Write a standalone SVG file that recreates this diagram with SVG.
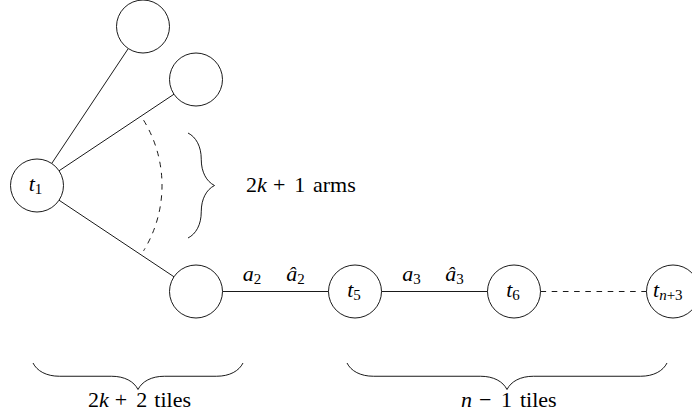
<svg xmlns="http://www.w3.org/2000/svg" width="692" height="416" viewBox="0 0 692 416">
  <style>
    .node { fill: #ffffff; stroke: #000000; stroke-width: 0.9; }
    .edge { fill: none; stroke: #000000; stroke-width: 0.9; }
    .dash { stroke-dasharray: 5.6 5.6; }
    .brace { fill: none; stroke: #000000; stroke-width: 0.9; }
  </style>

  <rect width="692" height="416" fill="#ffffff"/>

  <!-- connectors -->
  <g id="connectors">
    <line class="edge" x1="51.7" y1="163.5" x2="128.3" y2="48.5"/>
    <line class="edge" x1="59" y1="170.8" x2="174" y2="94.2"/>
    <line class="edge" x1="59" y1="200.2" x2="174" y2="276.8"/>
    <line class="edge" x1="222.5" y1="291.5" x2="328.5" y2="291.5"/>
    <line class="edge" x1="381.5" y1="291.5" x2="487.5" y2="291.5"/>
    <line class="edge dash" x1="540.5" y1="291.5" x2="646.5" y2="291.5"/>
    <!-- arc standing for the remaining arms -->
    <path class="edge dash" d="M 143.6 120.2 A 125 125 0 0 1 143.6 250.8"/>
  </g>

  <!-- nodes -->
  <g id="t1">
    <circle class="node" cx="37" cy="185.5" r="26.5"/>
    <text x="35.5" y="190.5" text-anchor="middle" font-family="Liberation Serif" font-size="22"><tspan font-style="italic">t</tspan><tspan font-size="15" dy="3.5">1</tspan></text>
  </g>
  <g id="arm-top">
    <circle class="node" cx="143" cy="26.5" r="26.5"/>
  </g>
  <g id="arm-second">
    <circle class="node" cx="196" cy="79.5" r="26.5"/>
  </g>
  <g id="arm-bottom">
    <circle class="node" cx="196" cy="291.5" r="26.5"/>
  </g>
  <g id="t5">
    <circle class="node" cx="355" cy="291.5" r="26.5"/>
    <text x="354" y="296.5" text-anchor="middle" font-family="Liberation Serif" font-size="22"><tspan font-style="italic">t</tspan><tspan font-size="15" dy="3.5">5</tspan></text>
  </g>
  <g id="t6">
    <circle class="node" cx="514" cy="291.5" r="26.5"/>
    <text x="513" y="296.5" text-anchor="middle" font-family="Liberation Serif" font-size="22"><tspan font-style="italic">t</tspan><tspan font-size="15" dy="3.5">6</tspan></text>
  </g>
  <g id="tn3">
    <circle class="node" cx="673" cy="291.5" r="26.5"/>
    <text x="653" y="296.5" font-family="Liberation Serif" font-size="22"><tspan font-style="italic">t</tspan><tspan font-size="15" dy="3.5"><tspan font-style="italic">n</tspan>+3</tspan></text>
  </g>

  <!-- edge labels -->
  <g id="edge-labels">
    <text x="252" y="280.5" text-anchor="middle" font-family="Liberation Serif" font-size="22"><tspan font-style="italic">a</tspan><tspan font-size="15" dy="3.5">2</tspan></text>
    <text x="295.5" y="280.5" text-anchor="middle" font-family="Liberation Serif" font-size="22"><tspan font-style="italic">â</tspan><tspan font-size="15" dy="3.5">2</tspan></text>
    <text x="411.5" y="280.5" text-anchor="middle" font-family="Liberation Serif" font-size="22"><tspan font-style="italic">a</tspan><tspan font-size="15" dy="3.5">3</tspan></text>
    <text x="454.5" y="280.5" text-anchor="middle" font-family="Liberation Serif" font-size="22"><tspan font-style="italic">â</tspan><tspan font-size="15" dy="3.5">3</tspan></text>
  </g>

  <!-- braces with their counts -->
  <g id="brace-arms">
    <path class="brace" d="M 188 133 C 195.95 136.98 201.25 146.25 201.25 159.25 C 201.25 172.25 206.55 181.5 214.5 185.5 C 206.55 189.5 201.25 198.75 201.25 211.75 C 201.25 224.75 195.95 234.02 188 238"/>
    <text y="192" font-family="Liberation Serif" font-size="22"><tspan x="246">2</tspan><tspan font-style="italic">k</tspan><tspan x="273">+</tspan><tspan x="294.3">1</tspan><tspan x="313">arms</tspan></text>
  </g>
  <g id="brace-left">
    <path class="brace" d="M 33 363 C 36.98 370.95 46.25 376.25 59.5 376.25 L 111.5 376.25 C 124.75 376.25 134.02 381.55 138 389.5 C 141.98 381.55 151.25 376.25 164.5 376.25 L 216.5 376.25 C 229.75 376.25 239.02 370.95 243 363"/>
    <text y="407" font-family="Liberation Serif" font-size="22"><tspan x="88">2</tspan><tspan font-style="italic">k</tspan><tspan x="114.8">+</tspan><tspan x="136.3">2</tspan><tspan x="154.3">tiles</tspan></text>
  </g>
  <g id="brace-right">
    <path class="brace" d="M 347 363 C 350.98 370.95 360.25 376.25 373.5 376.25 L 480.5 376.25 C 493.75 376.25 503.02 381.55 507 389.5 C 510.98 381.55 520.25 376.25 533.5 376.25 L 640.5 376.25 C 653.75 376.25 663.02 370.95 667 363"/>
    <text y="407" font-family="Liberation Serif" font-size="22"><tspan x="461" font-style="italic">n</tspan><tspan x="479">−</tspan><tspan x="501">1</tspan><tspan x="520">tiles</tspan></text>
  </g>
</svg>
